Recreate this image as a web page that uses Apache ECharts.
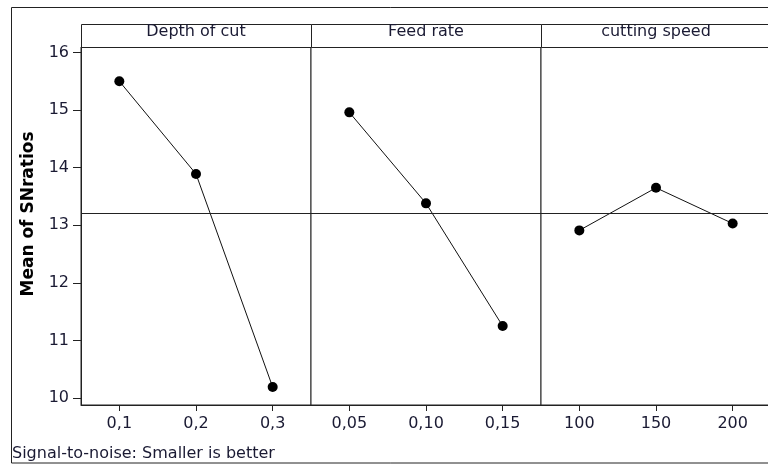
<!DOCTYPE html>
<html>
<head>
<meta charset="utf-8">
<script src="https://cdn.jsdelivr.net/npm/echarts@6/dist/echarts.min.js"></script>
<style>html,body{margin:0;padding:0;background:#fff}#c{width:768px;height:464px}</style>
</head>
<body>
<div id="c"></div>
<script>
// ---- data ----
const panelTitles = ['Depth of cut', 'Feed rate', 'cutting speed'];
const depthLevels = ['0,1', '0,2', '0,3'];
const depthMeans = [15.50, 13.89, 10.19];
const feedLevels = ['0,05', '0,10', '0,15'];
const feedMeans = [14.96, 13.38, 11.25];
const speedLevels = ['100', '150', '200'];
const speedMeans = [12.91, 13.65, 13.03];
const yTicks = [10, 11, 12, 13, 14, 15, 16];
const yTitle = 'Mean of SNratios';
const footnote = 'Signal-to-noise: Smaller is better';

(function () {
const levels = [depthLevels, feedLevels, speedLevels];
const means = [depthMeans, feedMeans, speedMeans];
const allVals = [].concat(depthMeans, feedMeans, speedMeans);
const grandMean = allVals.reduce((a, b) => a + b, 0) / allVals.length;

const FONT = 'DejaVu Sans';
const TXT = '#1a1a33';
const LINE = '#222';
const left0 = 81, panelW = 230, plotTop = 47, plotBottom = 405, stripTop = 24;

const grids = [], xAxes = [], yAxes = [], series = [], graphics = [];
for (let i = 0; i < 3; i++) {
  grids.push({left: left0 + panelW * i, top: plotTop, width: panelW, height: plotBottom - plotTop,
    outerBoundsMode: 'none', containLabel: false,
    show: true, borderColor: LINE, borderWidth: 1, backgroundColor: '#fff'});
  xAxes.push({type: 'category', gridIndex: i, data: levels[i], boundaryGap: true,
    axisLine: {show: true, lineStyle: {color: LINE}},
    axisTick: {show: true, alignWithLabel: true, length: 6, lineStyle: {color: LINE}},
    axisLabel: {fontFamily: FONT, fontSize: 16, color: TXT, margin: 11},
    splitLine: {show: false}});
  yAxes.push({type: 'value', gridIndex: i, min: 9.878, max: 16.095,
    axisLine: {show: i === 0, lineStyle: {color: LINE}},
    axisTick: {show: i === 0, length: 8, customValues: yTicks, lineStyle: {color: LINE}},
    axisLabel: {show: i === 0, customValues: yTicks, fontFamily: FONT, fontSize: 16, color: TXT, margin: 12},
    splitLine: {show: false}});
  series.push({type: 'line', xAxisIndex: i, yAxisIndex: i, data: means[i],
    symbol: 'circle', symbolSize: 10, showSymbol: true,
    lineStyle: {color: '#111', width: 1}, itemStyle: {color: '#000'},
    markLine: {silent: true, symbol: 'none', label: {show: false},
      lineStyle: {color: LINE, width: 1, type: 'solid'},
      data: [{yAxis: grandMean}]},
    animation: false});
  graphics.push({type: 'rect', shape: {x: left0 + panelW * i + 0.5, y: stripTop + 0.5, width: panelW, height: plotTop - stripTop},
    style: {fill: '#fff', stroke: LINE, lineWidth: 1}});
  graphics.push({type: 'text', x: left0 + panelW * i + panelW / 2, y: 32,
    style: {text: panelTitles[i], fontFamily: FONT, fontSize: 16, fill: TXT, align: 'center', verticalAlign: 'middle'}});
}
graphics.unshift({type: 'rect', shape: {x: 11.5, y: 7.5, width: 800, height: 455.5},
  style: {fill: 'none', stroke: LINE, lineWidth: 1}, z: -1});
graphics.push({type: 'text', x: 29, y: 214, rotation: Math.PI / 2,
  style: {text: yTitle, fontFamily: FONT, fontSize: 17, fontWeight: 'bold', fill: '#000', align: 'center', verticalAlign: 'middle'}});
graphics.push({type: 'text', x: 12, y: 462,
  style: {text: footnote, fontFamily: FONT, fontSize: 16, fill: TXT, align: 'left', verticalAlign: 'bottom'}});

const chart = echarts.init(document.getElementById('c'), null, {renderer: 'canvas'});
chart.setOption({
  animation: false,
  backgroundColor: '#fff',
  grid: grids, xAxis: xAxes, yAxis: yAxes, series: series,
  graphic: graphics
});
})();
</script>
</body>
</html>
